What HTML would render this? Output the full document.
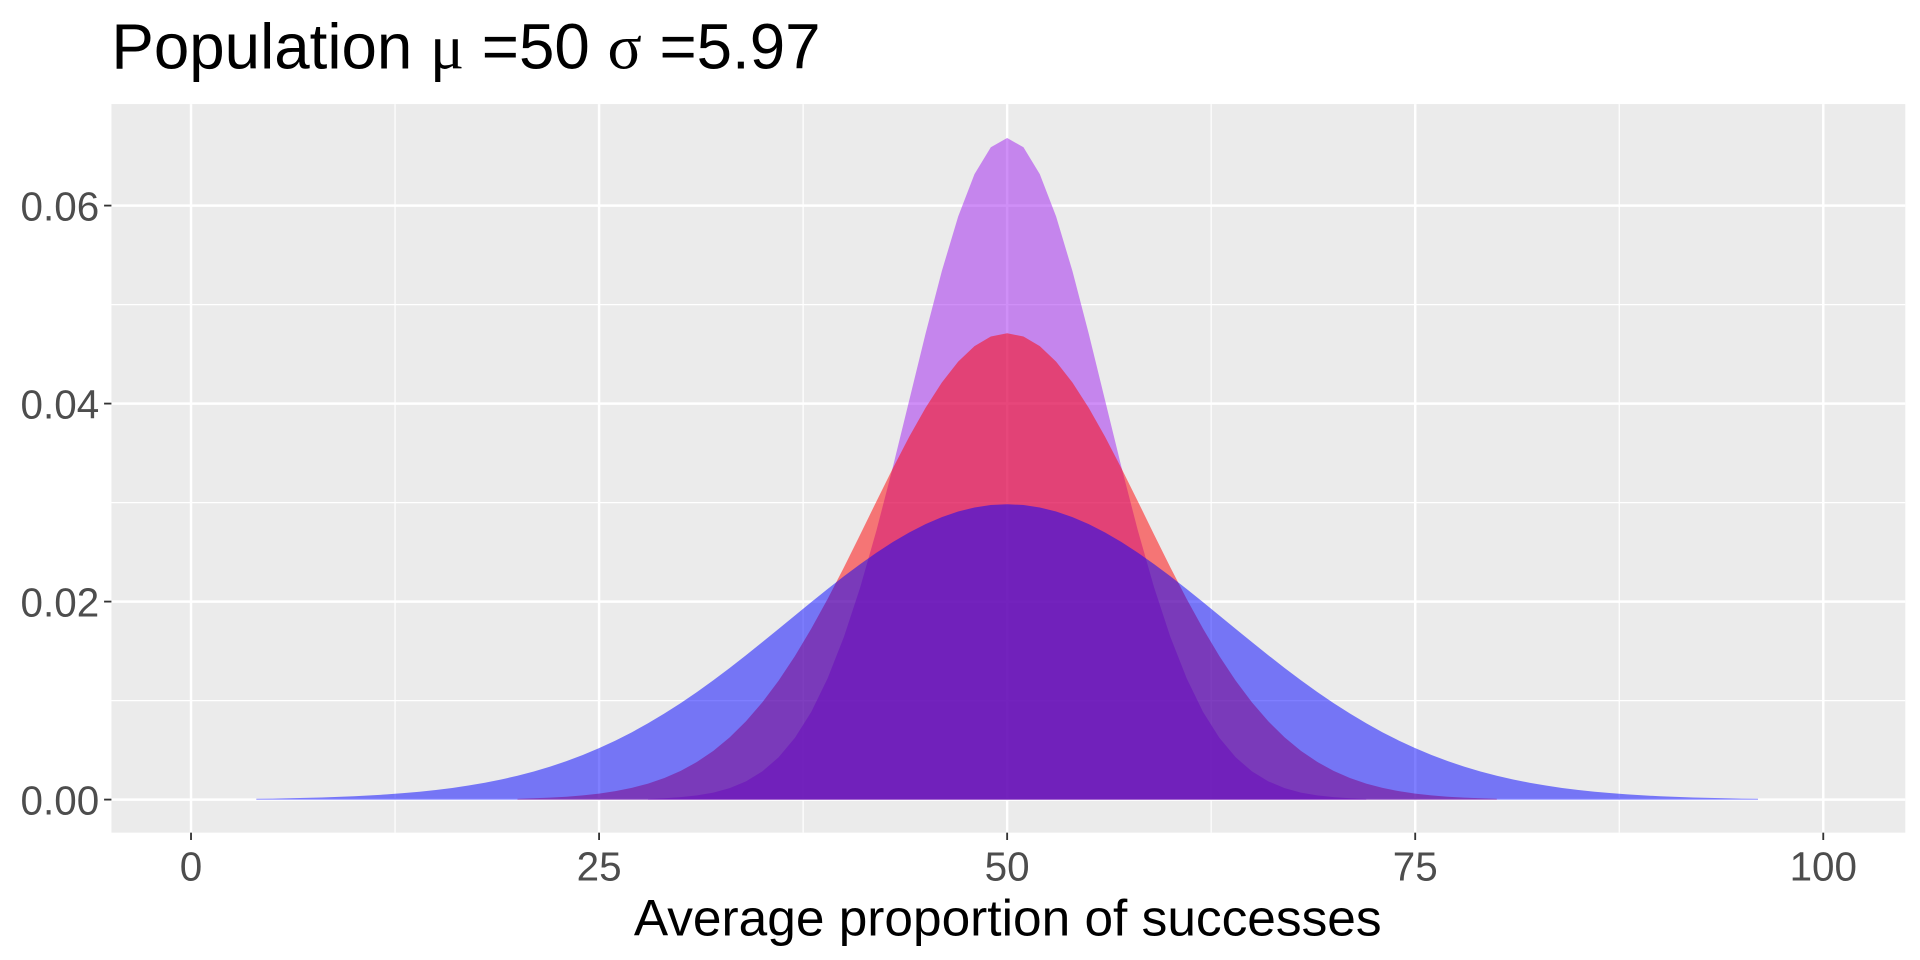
<!DOCTYPE html>
<html><head><meta charset="utf-8"><style>
html,body{margin:0;padding:0;background:#fff;}
svg{display:block;}
text{font-family:"Liberation Sans",sans-serif;}
</style></head><body>
<svg id="s" width="1920" height="960" viewBox="0 0 1568 784" preserveAspectRatio="none" xmlns="http://www.w3.org/2000/svg">
<rect x="0" y="0" width="1568" height="784" fill="#fff"/>
<rect x="91" y="85" width="1465" height="595" fill="#EBEBEB"/>
<g id="grid"></g>
<g id="areas"></g>
<g id="ticks" stroke="#333" stroke-width="1.5"></g>
<g id="labels" fill="#4D4D4D" font-size="33"></g>
<text x="91" y="56" font-size="52" fill="#000">Population <tspan font-family="Liberation Serif,serif">μ</tspan> =50 <tspan font-family="Liberation Serif,serif">σ</tspan> =5.97</text>
<text x="823" y="764" font-size="42" fill="#000" text-anchor="middle">Average proportion of successes</text>
</svg>
<script>
const NS="http://www.w3.org/2000/svg";
const X=v=>156+v*13.33, Y=v=>653-v*8085;
function el(p,t,a){const e=document.createElementNS(NS,t);for(const k in a)e.setAttribute(k,a[k]);document.getElementById(p).appendChild(e);return e;}
for(const v of [12.5,37.5,62.5,87.5]) el("grid","line",{x1:X(v),x2:X(v),y1:85,y2:680,stroke:"#fff","stroke-width":1});
for(const v of [0.01,0.03,0.05]) el("grid","line",{x1:91,x2:1556,y1:Y(v),y2:Y(v),stroke:"#fff","stroke-width":1});
for(const v of [0,25,50,75,100]){el("grid","line",{x1:X(v),x2:X(v),y1:85,y2:680,stroke:"#fff","stroke-width":2});
 el("ticks","line",{x1:X(v),x2:X(v),y1:680,y2:686});
 const t=el("labels","text",{x:X(v),y:719,"text-anchor":"middle"});t.textContent=v;}
for(const v of [0,0.02,0.04,0.06]){el("grid","line",{x1:91,x2:1556,y1:Y(v),y2:Y(v),stroke:"#fff","stroke-width":2});
 el("ticks","line",{x1:85,x2:91,y1:Y(v),y2:Y(v)});
 const t=el("labels","text",{x:81,y:Y(v)+12,"text-anchor":"end"});t.textContent=v.toFixed(2);}
function area(sd,lo,hi,col){
 let d="M"+X(lo)+","+Y(0);
 for(let x=lo;x<=hi+1e-9;x+=1){const y=Math.exp(-0.5*((x-50)/sd)**2)/(sd*Math.sqrt(2*Math.PI));d+="L"+X(x)+","+Y(y);}
 d+="L"+X(hi)+","+Y(0)+"Z";
 el("areas","path",{d:d,fill:col,"fill-opacity":0.5});
}
area(5.97,28,72,"#A020F0");
area(8.47,20,80,"#FF0000");
area(13.37,4,96,"#0000FF");
</script>
</body></html>
